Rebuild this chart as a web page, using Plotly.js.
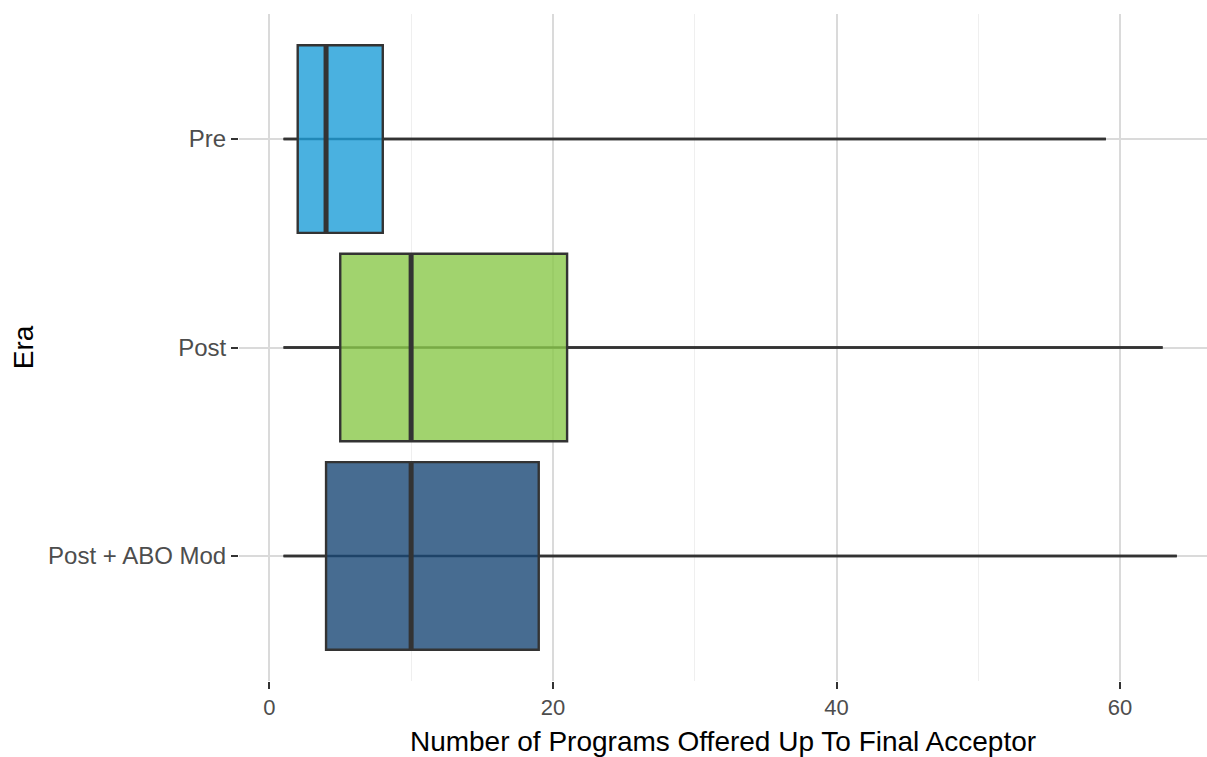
<!DOCTYPE html>
<html>
<head>
<meta charset="utf-8">
<script src="https://cdn.plot.ly/plotly-3.0.1.min.js"></script>
<style>html,body{margin:0;padding:0;background:#fff;}#chart{width:1207px;height:757px;}</style>
</head>
<body>
<div id="chart"></div>
<script>
// Data
const eras = ["Pre", "Post", "Post + ABO Mod"];
const lowerWhisker = [1, 1, 1];
const q1Values = [2, 5, 4];
const medianValues = [4, 10, 10];
const q3Values = [8, 21, 19];
const upperWhisker = [59, 63, 64];
const fillColors = ["rgba(29,158,216,0.8)", "rgba(138,200,74,0.8)", "rgba(25,71,118,0.8)"];
const xTickVals = [0, 20, 40, 60];
const xMinorVals = [10, 30, 50];

// Vertical positions: first category at top
const n = eras.length;
const positions = eras.map((_, i) => n - i);
const boxWidth = 0.9;

const traces = [];
eras.forEach((era, i) => {
  traces.push({
    type: "box",
    orientation: "h",
    name: era,
    y: [positions[i]],
    q1: [q1Values[i]],
    median: [medianValues[i]],
    q3: [q3Values[i]],
    lowerfence: [lowerWhisker[i]],
    upperfence: [upperWhisker[i]],
    width: boxWidth,
    whiskerwidth: 0,
    fillcolor: fillColors[i],
    line: { color: "#333333", width: 2.4 },
    hoverinfo: "x",
    showlegend: false
  });
});
// Thicker median lines, like ggplot's
eras.forEach((era, i) => {
  traces.push({
    type: "scatter",
    mode: "lines",
    x: [medianValues[i], medianValues[i]],
    y: [positions[i] - boxWidth / 2, positions[i] + boxWidth / 2],
    line: { color: "#333333", width: 5 },
    hoverinfo: "skip",
    showlegend: false
  });
});

// Whisker line running under the translucent box (as ggplot draws it)
const shapes = eras.map((era, i) => ({
  type: "line",
  layer: "between",
  xref: "x", yref: "y",
  x0: lowerWhisker[i], x1: upperWhisker[i],
  y0: positions[i], y1: positions[i],
  line: { color: "#333333", width: 2.4 }
}));

const layout = {
  width: 1207,
  height: 757,
  margin: { l: 239, r: 0, t: 14, b: 76 },
  paper_bgcolor: "#ffffff",
  plot_bgcolor: "#ffffff",
  font: { family: "Liberation Sans, Arial, sans-serif", color: "#4D4D4D" },
  showlegend: false,
  shapes: shapes,
  xaxis: {
    range: [-2.14, 66.13],
    tickmode: "array",
    tickvals: xTickVals,
    ticktext: xTickVals.map(String),
    ticks: "outside",
    ticklen: 7,
    tickwidth: 2,
    tickcolor: "#333333",
    tickfont: { size: 22, color: "#4D4D4D" },
    showgrid: true,
    gridcolor: "#DADADA",
    gridwidth: 2,
    minor: { tickmode: "array", tickvals: xMinorVals, showgrid: true, gridcolor: "#EFEFEF", gridwidth: 1, ticks: "" },
    zeroline: false,
    showline: false,
    title: { text: "Number of Programs Offered Up To Final Acceptor", font: { size: 28, color: "#000000" }, standoff: 14 }
  },
  yaxis: {
    range: [0.4, n + 0.6],
    tickmode: "array",
    tickvals: positions,
    ticktext: eras,
    ticks: "outside",
    ticklen: 7,
    tickwidth: 2,
    tickcolor: "#333333",
    tickfont: { size: 24, color: "#4D4D4D" },
    showgrid: true,
    gridcolor: "#DADADA",
    gridwidth: 2,
    zeroline: false,
    showline: false,
    title: { text: "Era", font: { size: 28, color: "#000000" }, standoff: 6 }
  }
};

Plotly.newPlot("chart", traces, layout, { displayModeBar: false, staticPlot: true });
</script>
</body>
</html>
